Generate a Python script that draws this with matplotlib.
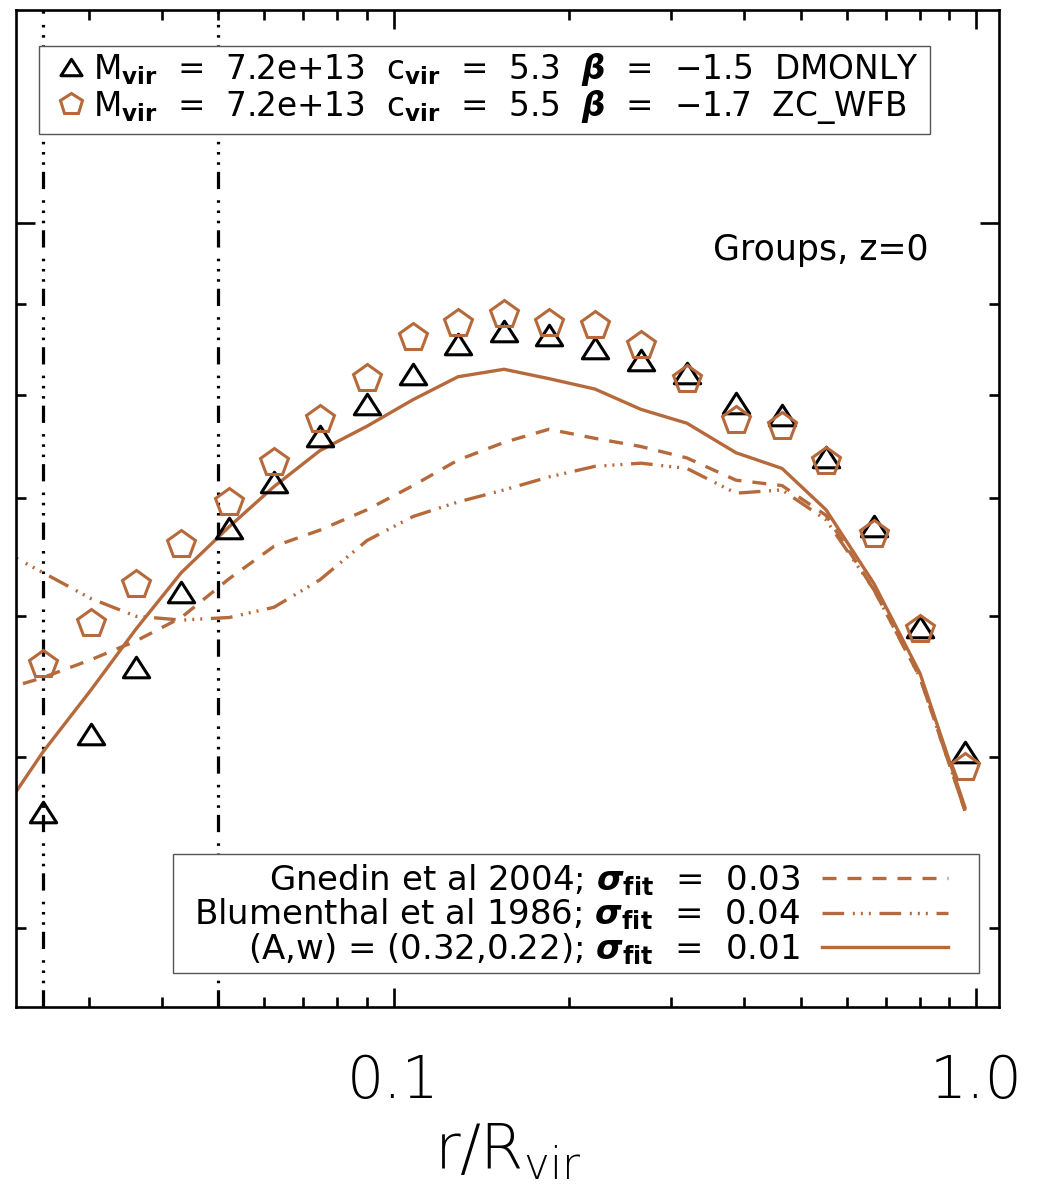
import matplotlib
matplotlib.use('Agg')
import matplotlib.pyplot as plt
from matplotlib import font_manager as fm
from matplotlib.patches import Rectangle
from matplotlib.path import Path
from matplotlib.ticker import NullFormatter

# radial bins (r/Rvir) of the measured profiles
r_bins = [0.0250, 0.0302, 0.0361, 0.0432, 0.0522, 0.0623, 0.0747, 0.0900, 0.1080, 0.1290, 0.1547,
          0.1848, 0.2217, 0.2659, 0.3189, 0.3872, 0.4645, 0.5527, 0.6680, 0.8015, 0.9574]
dmonly = [4.65, 5.15, 5.62, 6.19, 6.73, 7.14, 7.58, 7.90, 8.22, 8.55, 8.69,
          8.65, 8.50, 8.37, 8.23, 7.92, 7.79, 7.38, 6.75, 5.92, 5.03]
zc_wfb = [5.64, 5.95, 6.26, 6.59, 6.96, 7.33, 7.75, 8.18, 8.62, 8.78, 8.88,
          8.78, 8.76, 8.54, 8.17, 7.74, 7.68, 7.34, 6.68, 5.90, 4.93]

# model curves (one extra bin just left of the plotted range)
r_model = [0.0208] + r_bins
gnedin = [5.44, 5.54, 5.67, 5.81, 5.99, 6.30, 6.57, 6.71, 6.89, 7.11, 7.35,
          7.52, 7.65, 7.56, 7.48, 7.37, 7.16, 7.11, 6.84, 6.21, 5.54, 4.66]
blumenthal = [6.56, 6.35, 6.14, 6.00, 5.97, 5.99, 6.07, 6.29, 6.62, 6.83, 6.96,
              7.07, 7.19, 7.29, 7.32, 7.27, 7.04, 7.07, 6.80, 6.21, 5.54, 4.66]
fit_aw = [4.60, 5.03, 5.45, 5.90, 6.35, 6.74, 7.10, 7.44, 7.68, 7.95, 8.19,
          8.27, 8.17, 8.06, 7.85, 7.71, 7.42, 7.27, 6.89, 6.26, 5.57, 4.68]

r_lines = [0.025, 0.05]  # vertical markers

label_dm = r'M$_{\mathbf{vir}}$  =  7.2e+13  c$_{\mathbf{vir}}$  =  5.3  $\mathbfit{\beta}$  =  −1.5  DMONLY'
label_zc = r'M$_{\mathbf{vir}}$  =  7.2e+13  c$_{\mathbf{vir}}$  =  5.5  $\mathbfit{\beta}$  =  −1.7  ZC_WFB'
label_gn = r'Gnedin et al 2004; $\mathbfit{\sigma}_{\mathbf{fit}}$  =  0.03'
label_bl = r'Blumenthal et al 1986; $\mathbfit{\sigma}_{\mathbf{fit}}$  =  0.04'
label_aw = r'(A,w) = (0.32,0.22); $\mathbfit{\sigma}_{\mathbf{fit}}$  =  0.01'

brown = '#B66A3C'


def _w(f):
    w = f.weight
    if isinstance(w, str):
        w = fm.weight_dict.get(w, 400)
    return w


# thin face for the axis numbers / label, if one is installed
light_family = 'DejaVu Sans'
for fam in ['DejaVu Sans', 'Roboto', 'Lato', 'Open Sans', 'Inter', 'Noto Sans']:
    if any(f.name == fam and _w(f) <= 300 for f in fm.fontManager.ttflist):
        light_family = fam
        break

plt.rcParams['mathtext.fontset'] = 'custom'
plt.rcParams['mathtext.rm'] = light_family + ':light'
plt.rcParams['mathtext.bf'] = 'DejaVu Sans:bold'
plt.rcParams['mathtext.bfit'] = 'DejaVu Sans:italic:bold'
plt.rcParams['mathtext.it'] = 'DejaVu Sans:italic'
plt.rcParams['mathtext.sf'] = 'DejaVu Sans'

fig = plt.figure(figsize=(10.37, 12.02), dpi=100)
ax = fig.add_axes([16 / 1037, 1 - 1007 / 1202, 983 / 1037, 997 / 1202])
ax.set_xscale('log')
ax.set_yscale('log')

for xv in r_lines:
    ax.axvline(xv, color='k', lw=2.3, zorder=1.5,
               linestyle=(0, (5.4, 2.2, 0.8, 2.4, 0.8, 2.4, 0.8, 3.5)))

l_gn, = ax.plot(r_model, gnedin, color=brown, lw=2.4, linestyle=(0, (4.2, 3.3)))
l_bl, = ax.plot(r_model, blumenthal, color=brown, lw=2.4,
                linestyle=(0, (6.5, 2.6, 0.6, 1.8, 0.6, 1.8, 0.6, 2.6)))
l_aw, = ax.plot(r_model, fit_aw, color=brown, lw=2.4)

tri = Path([(0, 0.78), (-1, -0.78), (1, -0.78), (0, 0.78)],
           [Path.MOVETO, Path.LINETO, Path.LINETO, Path.CLOSEPOLY])
h_dm, = ax.plot(r_bins, dmonly, linestyle='none', marker=tri, ms=19,
                mfc='none', mec='k', mew=2.2, zorder=3)
h_zc, = ax.plot(r_bins, zc_wfb, linestyle='none', marker='p', ms=20.5,
                mfc='none', mec=brown, mew=2.2, zorder=3.1)

ax.set_xlim(0.02247, 1.0952)
ax.set_ylim(3.611, 13.19)

ax.set_xticks([0.1, 1.0], labels=['0.1', '1.0'])
ax.xaxis.set_minor_formatter(NullFormatter())
ax.yaxis.set_major_formatter(NullFormatter())
ax.yaxis.set_minor_formatter(NullFormatter())
ax.tick_params(which='both', direction='in', top=True, right=True, width=1.9)
ax.tick_params(which='major', length=13.7)
ax.tick_params(which='minor', length=7)
ax.tick_params(axis='x', which='major', pad=33, labelsize=42)
for t in ax.get_xticklabels():
    t.set_family(light_family)
    t.set_fontweight('light')
for s in ax.spines.values():
    s.set_linewidth(1.9)

ax.set_xlabel(r'r/R$_{\rm vir}$', fontsize=45, family=light_family,
              fontweight='light', labelpad=8)

ax.text(0.9278, 0.749, 'Groups, z=0', ha='right', va='baseline',
        fontsize=25, transform=ax.transAxes)

# legend frames
ax.add_patch(Rectangle((0.0234, 0.8756), 0.9064, 0.0883, transform=ax.transAxes,
                       facecolor='white', edgecolor='#555555', lw=1.0, zorder=4.5))
ax.add_patch(Rectangle((0.1597, 0.0341), 0.8200, 0.1194, transform=ax.transAxes,
                       facecolor='white', edgecolor='#555555', lw=1.0, zorder=4.5))

leg1 = ax.legend([h_dm, h_zc], [label_dm, label_zc], loc='upper left',
                 bbox_to_anchor=(0.0346, 0.959), borderaxespad=0, borderpad=0,
                 handlelength=1.3, handletextpad=0.0, labelspacing=0.0,
                 markerscale=0.8, fontsize=23.6, frameon=False)
ax.add_artist(leg1)

leg2 = ax.legend([l_gn, l_bl, l_aw], [label_gn, label_bl, label_aw], loc='lower right',
                 bbox_to_anchor=(0.9481, 0.0401), borderaxespad=0, borderpad=0,
                 markerfirst=False, handlelength=3.7, handletextpad=0.65,
                 labelspacing=-0.03, fontsize=24.5, frameon=False)

fig.savefig('out.png', dpi=100)
